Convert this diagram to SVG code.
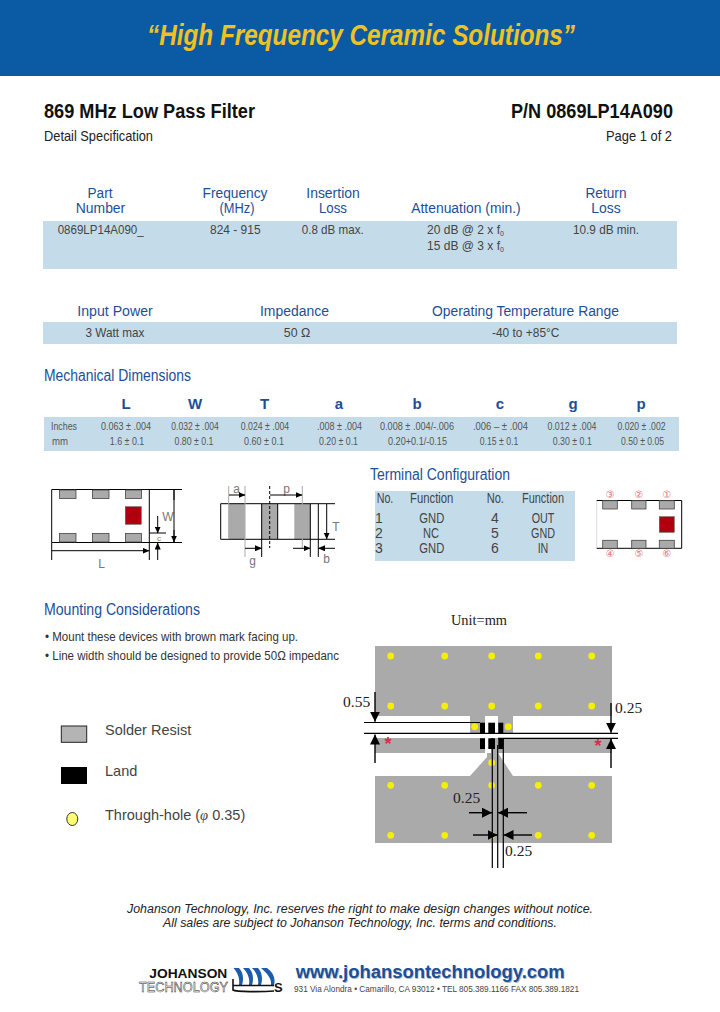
<svg xmlns="http://www.w3.org/2000/svg" width="720" height="1012" viewBox="0 0 720 1012">
<style>
text{font-family:"Liberation Sans",Arial,sans-serif}
.h{fill:#1c4f98;font-size:15.5px;text-anchor:middle}
.s{fill:#1c4f98;font-size:16px}
.v{fill:#444;font-size:13px;text-anchor:middle}
.d{fill:#555;font-size:10.5px;text-anchor:middle}
.dh{fill:#1c4f98;font-size:15px;font-weight:bold;text-anchor:middle}
.t{fill:#444;font-size:14px;text-anchor:middle}
.b{fill:#333;font-size:13.5px}
.lg{fill:#444;font-size:14.5px}
.dim{font-family:"Liberation Serif",serif;font-size:15.5px;fill:#222}
.lab{fill:#777;font-size:12px;text-anchor:middle}
.cn{fill:#e07070;font-size:10px;text-anchor:middle;font-family:"DejaVu Sans",sans-serif}
.pad{fill:#aaa;stroke:#444;stroke-width:.8}
.red{fill:#b00010;stroke:#555;stroke-width:.5}
.ln{stroke:#000;stroke-width:1;fill:none}
.lg2{stroke:#aaa;stroke-width:1;fill:none}
.ar{stroke:#000;stroke-width:1;fill:none;marker-end:url(#a)}
.ar2{stroke:#000;stroke-width:1.4;fill:none;marker-end:url(#b)}
.hole{fill:#f4f000}
.land{fill:#000}
</style>
<defs>
<marker id="a" markerWidth="7" markerHeight="6" refX="6.5" refY="3" orient="auto" markerUnits="userSpaceOnUse"><path d="M0 0L7 3L0 6Z" fill="#000"/></marker>
<marker id="b" markerWidth="10" markerHeight="10" refX="10" refY="5" orient="auto" markerUnits="userSpaceOnUse"><path d="M0 0L10 5L0 10Z" fill="#000"/></marker>
</defs>
<rect width="720" height="1012" fill="#fff"/>
<g id="banner">
<rect width="720" height="76" fill="#0b5aa4"/>
<text x="147" y="45" font-size="29" font-weight="bold" font-style="italic" fill="#f1c21f" textLength="428" lengthAdjust="spacingAndGlyphs">“High Frequency Ceramic Solutions”</text>
</g>
<g id="title">
<text x="44" y="118" font-size="20" font-weight="bold" fill="#111" textLength="211" lengthAdjust="spacingAndGlyphs">869 MHz Low Pass Filter</text>
<text x="511" y="118" font-size="20" font-weight="bold" fill="#111" textLength="162" lengthAdjust="spacingAndGlyphs">P/N 0869LP14A090</text>
<text x="44" y="141" font-size="15" fill="#222" textLength="109" lengthAdjust="spacingAndGlyphs">Detail Specification</text>
<text x="606" y="141" font-size="15" fill="#222" textLength="66" lengthAdjust="spacingAndGlyphs">Page 1 of 2</text>
</g>
<g id="spec-table">
<rect x="43" y="221" width="634" height="48" fill="#c4dcea"/>
<text class="h" x="100" y="198" textLength="25" lengthAdjust="spacingAndGlyphs">Part</text><text class="h" x="100.5" y="213" textLength="49.5" lengthAdjust="spacingAndGlyphs">Number</text>
<text class="h" x="235" y="198" textLength="65" lengthAdjust="spacingAndGlyphs">Frequency</text><text class="h" x="237" y="213" textLength="35" lengthAdjust="spacingAndGlyphs">(MHz)</text>
<text class="h" x="333" y="198" textLength="53.5" lengthAdjust="spacingAndGlyphs">Insertion</text><text class="h" x="333" y="213" textLength="28" lengthAdjust="spacingAndGlyphs">Loss</text>
<text class="h" x="466" y="213" textLength="109.5" lengthAdjust="spacingAndGlyphs">Attenuation (min.)</text>
<text class="h" x="606" y="198" textLength="41" lengthAdjust="spacingAndGlyphs">Return</text><text class="h" x="606" y="213" textLength="29.5" lengthAdjust="spacingAndGlyphs">Loss</text>
<text class="v" x="100.7" y="234" textLength="86" lengthAdjust="spacingAndGlyphs">0869LP14A090_</text>
<text class="v" x="235.3" y="234" textLength="50.5" lengthAdjust="spacingAndGlyphs">824 - 915</text>
<text class="v" x="332.7" y="234" textLength="62" lengthAdjust="spacingAndGlyphs">0.8 dB max.</text>
<text class="v" x="465.5" y="234" style="font-size:12px">20 dB @ 2 x f<tspan font-size="7" dy="2">0</tspan></text>
<text class="v" x="465.5" y="250" style="font-size:12px">15 dB @ 3 x f<tspan font-size="7" dy="2">0</tspan></text>
<text class="v" x="606" y="234" textLength="66" lengthAdjust="spacingAndGlyphs">10.9 dB min.</text>
</g>
<g id="power-table">
<rect x="43" y="322" width="634" height="22" fill="#c4dcea"/>
<text class="h" x="115" y="316" textLength="75.5" lengthAdjust="spacingAndGlyphs">Input Power</text>
<text class="h" x="294.5" y="316" textLength="69" lengthAdjust="spacingAndGlyphs">Impedance</text>
<text class="h" x="525.5" y="316" textLength="187" lengthAdjust="spacingAndGlyphs">Operating Temperature Range</text>
<text class="v" x="115" y="337" textLength="59" lengthAdjust="spacingAndGlyphs">3 Watt max</text>
<text class="v" x="297" y="337" textLength="26.5" lengthAdjust="spacingAndGlyphs">50 Ω</text>
<text class="v" x="525.7" y="337" textLength="67.5" lengthAdjust="spacingAndGlyphs">-40 to +85°C</text>
</g>
<g id="dimensions-table">
<text class="s" x="44" y="381" textLength="147" lengthAdjust="spacingAndGlyphs">Mechanical Dimensions</text>
<rect x="44" y="417" width="635" height="34" fill="#c4dcea"/>
<text class="dh" x="126" y="409">L</text><text class="dh" x="195" y="409">W</text><text class="dh" x="264.5" y="409">T</text><text class="dh" x="339" y="409">a</text><text class="dh" x="417" y="409">b</text><text class="dh" x="500" y="409">c</text><text class="dh" x="573" y="409">g</text><text class="dh" x="641" y="409">p</text>
<text class="d" x="64" y="430" textLength="26" lengthAdjust="spacingAndGlyphs">Inches</text><text class="d" x="60" y="445" textLength="16" lengthAdjust="spacingAndGlyphs">mm</text>
<text class="d" x="126" y="430" textLength="50" lengthAdjust="spacingAndGlyphs">0.063 ± .004</text><text class="d" x="127" y="445" textLength="34.5" lengthAdjust="spacingAndGlyphs">1.6 ± 0.1</text>
<text class="d" x="195" y="430" textLength="47.5" lengthAdjust="spacingAndGlyphs">0.032 ± .004</text><text class="d" x="194" y="445" textLength="39" lengthAdjust="spacingAndGlyphs">0.80 ± 0.1</text>
<text class="d" x="265" y="430" textLength="48.4" lengthAdjust="spacingAndGlyphs">0.024 ± .004</text><text class="d" x="264" y="445" textLength="40" lengthAdjust="spacingAndGlyphs">0.60 ± 0.1</text>
<text class="d" x="339.5" y="430" textLength="45" lengthAdjust="spacingAndGlyphs">.008 ± .004</text><text class="d" x="338.5" y="445" textLength="39" lengthAdjust="spacingAndGlyphs">0.20 ± 0.1</text>
<text class="d" x="417" y="430" textLength="74" lengthAdjust="spacingAndGlyphs">0.008 ± .004/-.006</text><text class="d" x="417.5" y="445" textLength="59" lengthAdjust="spacingAndGlyphs">0.20+0.1/-0.15</text>
<text class="d" x="500.5" y="430" textLength="55" lengthAdjust="spacingAndGlyphs">.006 – ± .004</text><text class="d" x="499" y="445" textLength="38.5" lengthAdjust="spacingAndGlyphs">0.15 ± 0.1</text>
<text class="d" x="572" y="430" textLength="49" lengthAdjust="spacingAndGlyphs">0.012 ± .004</text><text class="d" x="572.3" y="445" textLength="39" lengthAdjust="spacingAndGlyphs">0.30 ± 0.1</text>
<text class="d" x="641.5" y="430" textLength="48" lengthAdjust="spacingAndGlyphs">0.020 ± .002</text><text class="d" x="642.5" y="445" textLength="43" lengthAdjust="spacingAndGlyphs">0.50 ± 0.05</text>
</g>
<g id="top-view">
<path class="ln" d="M182 489.5H51.7V542.5H182M149.3 489.5V560M51.7 542.5V560M149.3 533H166"/>
<rect class="pad" x="59.5" y="490" width="16.5" height="8.5"/><rect class="pad" x="92.5" y="490" width="16.5" height="8.5"/><rect class="pad" x="125.5" y="490" width="16" height="8.5"/>
<rect class="pad" x="59.5" y="533.5" width="16.5" height="8.5"/><rect class="pad" x="92.5" y="533.5" width="16.5" height="8.5"/><rect class="pad" x="125.5" y="533.5" width="16" height="8.5"/>
<rect class="red" x="125.3" y="506.7" width="16" height="17.6"/>
<text class="lab" x="168" y="521">W</text><text class="lab" x="101.7" y="568">L</text><text class="lab" x="159" y="541" style="font-size:8px">c</text>
</g>
<g id="side-view">
<rect x="228.7" y="504" width="16.3" height="35" fill="#aaa"/><rect x="261.7" y="504" width="16" height="35" fill="#aaa"/><rect x="294.3" y="504" width="16" height="35" fill="#aaa"/>
<path class="ln" d="M335 503.7H220.7V539.3H335M261.7 504V557M277.7 504V539M310.3 504V557M318.3 504V557"/>
<path class="lg2" d="M228.7 486V539M245 486V557M302.3 486V548"/>
<path class="ln" stroke-dasharray="3 2" d="M269.7 486V548"/>
<text class="lab" x="236.7" y="493">a</text><text class="lab" x="286.7" y="493">p</text><text class="lab" x="252.7" y="565">g</text><text class="lab" x="326.7" y="563">b</text><text class="lab" x="336" y="531">T</text>
</g>
<g id="terminal-table">
<text class="s" x="370" y="480" textLength="140" lengthAdjust="spacingAndGlyphs">Terminal Configuration</text>
<rect x="375" y="491" width="200" height="70" fill="#c4dcea"/>
<text class="t" x="385" y="502.7" textLength="16.7" lengthAdjust="spacingAndGlyphs">No.</text><text class="t" x="431.7" y="502.7" textLength="43.3" lengthAdjust="spacingAndGlyphs">Function</text><text class="t" x="495.3" y="502.7" textLength="17.3" lengthAdjust="spacingAndGlyphs">No.</text><text class="t" x="543" y="502.7" textLength="42" lengthAdjust="spacingAndGlyphs">Function</text>
<text class="t" x="379" y="522.7">1</text><text class="t" x="431.8" y="522.7" textLength="25" lengthAdjust="spacingAndGlyphs">GND</text><text class="t" x="495" y="522.7">4</text><text class="t" x="543" y="522.7" textLength="22.7" lengthAdjust="spacingAndGlyphs">OUT</text>
<text class="t" x="379" y="538">2</text><text class="t" x="431" y="538" textLength="16" lengthAdjust="spacingAndGlyphs">NC</text><text class="t" x="495" y="538">5</text><text class="t" x="543" y="538" textLength="24" lengthAdjust="spacingAndGlyphs">GND</text>
<text class="t" x="379" y="553">3</text><text class="t" x="431.8" y="553" textLength="25" lengthAdjust="spacingAndGlyphs">GND</text><text class="t" x="495" y="553">6</text><text class="t" x="543" y="553" textLength="10.7" lengthAdjust="spacingAndGlyphs">IN</text>
</g>
<g id="terminal-chip">
<path class="lg2" d="M596.7 500.5V548" style="stroke:#ddd"/>
<path class="ln" d="M596.7 500.5H681.7V548.3H596.7"/>
<rect class="pad" x="602.7" y="500.7" width="14.6" height="8.3"/><rect class="pad" x="631.7" y="500.7" width="14.3" height="8.3"/><rect class="pad" x="659.3" y="500.7" width="15" height="8.3"/>
<rect class="pad" x="602.7" y="540.3" width="14.6" height="8"/><rect class="pad" x="631.7" y="540.3" width="14.3" height="8"/><rect class="pad" x="659.3" y="540.3" width="15" height="8"/>
<rect class="red" x="659.3" y="516.7" width="15" height="15.6"/>
<text class="cn" x="610.3" y="498">③</text><text class="cn" x="639" y="498">②</text><text class="cn" x="667" y="498">①</text>
<text class="cn" x="610.3" y="557">④</text><text class="cn" x="639" y="557">⑤</text><text class="cn" x="667" y="557">⑥</text>
</g>
<g id="mounting-notes">
<text class="s" x="44" y="615" textLength="156" lengthAdjust="spacingAndGlyphs">Mounting Considerations</text>
<text class="b" x="45" y="641" textLength="253" lengthAdjust="spacingAndGlyphs">• Mount these devices with brown mark facing up.</text>
<text class="b" x="45" y="660" textLength="294" lengthAdjust="spacingAndGlyphs">• Line width should be designed to provide 50Ω impedanc</text>
</g>
<g id="legend">
<rect x="61.3" y="726" width="25.4" height="16.3" fill="#b4b4b4" stroke="#222"/>
<rect x="61" y="767" width="26" height="17" fill="#000"/>
<ellipse cx="72.3" cy="819" rx="5.5" ry="6.5" fill="#ffff70" stroke="#333"/>
<text class="lg" x="105" y="735">Solder Resist</text>
<text class="lg" x="105" y="776">Land</text>
<text class="lg" x="105" y="820">Through-hole (<tspan font-style="italic" font-family="Liberation Serif,serif">φ</tspan> 0.35)</text>
</g>
<g id="pcb-layout">
<text class="dim" x="479" y="625" text-anchor="middle" textLength="56" lengthAdjust="spacingAndGlyphs">Unit=mm</text>
<path fill="#aaa" d="M375 646H612V716H513V733H470V716H375Z"/>
<path fill="#aaa" d="M375 738H612V753H375ZM375 776H470L487 757V753H498L513 776H612V843H375Z"/>
<rect x="485" y="716" width="13" height="22" fill="#fff"/>
<rect x="485" y="738" width="6" height="15" fill="#fff"/>
<g class="hole">
<circle cx="390.7" cy="656" r="3.4"/><circle cx="444.7" cy="656" r="3.4"/><circle cx="491.7" cy="656" r="3.4"/><circle cx="538.3" cy="656" r="3.4"/><circle cx="591.7" cy="656" r="3.4"/>
<circle cx="390.7" cy="706" r="3.4"/><circle cx="444.7" cy="706" r="3.4"/><circle cx="491.7" cy="706" r="3.4"/><circle cx="538.3" cy="706" r="3.4"/><circle cx="591.7" cy="706" r="3.4"/>
<circle cx="390.7" cy="785.3" r="3.4"/><circle cx="444.7" cy="785.3" r="3.4"/><circle cx="491.7" cy="785.3" r="3.4"/><circle cx="538.3" cy="785.3" r="3.4"/><circle cx="591.7" cy="785.3" r="3.4"/>
<circle cx="390.7" cy="835.3" r="3.4"/><circle cx="444.7" cy="835.3" r="3.4"/><circle cx="491.7" cy="835.3" r="3.4"/><circle cx="538.3" cy="835.3" r="3.4"/><circle cx="591.7" cy="835.3" r="3.4"/>
<circle cx="474.7" cy="726.7" r="3.4"/><circle cx="508.3" cy="726.7" r="3.4"/><circle cx="491.7" cy="762.7" r="3.4"/>
</g>
<g class="land">
<rect x="480" y="722.7" width="5" height="10.6"/><rect x="488.3" y="722.7" width="6.7" height="10.6"/><rect x="498.3" y="722.7" width="5" height="10.6"/>
<rect x="480" y="738.3" width="5" height="10.7"/><rect x="488.3" y="738.3" width="6.7" height="10.7"/><rect x="498.3" y="738.3" width="5" height="10.7"/>
</g>
<text x="388" y="750" text-anchor="middle" fill="#d8304c" font-size="18" font-weight="bold">*</text>
<text x="598" y="752" text-anchor="middle" fill="#d8304c" font-size="18" font-weight="bold">*</text>
<text class="dim" x="343" y="707">0.55</text>
<text class="dim" x="615" y="713">0.25</text>
<text class="dim" x="453" y="803">0.25</text>
<text class="dim" x="505" y="856">0.25</text>
</g>
<g id="connectors">
<path class="ar" d="M174 500V490M174 530V542"/>
<path class="ar" d="M100 550.7H52M100 550.7H149"/>
<path class="ar" d="M157.7 516V533"/>
<path class="ar" d="M157.7 560V543"/>
<path class="ln" d="M174 490V542"/>
<path class="ar" d="M237 495H229M237 495H245"/>
<path class="ar" d="M286 495H270M286 495H302"/>
<path class="ar" d="M253 548.3H245M253 548.3H261.5"/>
<path class="ar" d="M293 548.3H310"/>
<path class="ar" d="M335 548.3H318.5"/>
<path class="ar" d="M326.7 520V504M326.7 520V539"/>
<path class="ln" style="stroke-width:1.2" d="M364 722.5H480M364 733.3H618M498 738.3H618M492.3 738V868M497.7 745V868M503.3 738.3V868"/>
<path class="ar2" d="M375 692V721.7"/>
<path class="ar2" d="M375 763V734.5"/>
<path class="ar2" d="M611 703V732.7"/>
<path class="ar2" d="M611 768V739"/>
<path class="ar2" d="M469 812.7H492"/>
<path class="ar2" d="M527 812.7H498"/>
<path class="ar2" d="M473 835H497.7"/>
<path class="ar2" d="M532 835H503.5"/>
</g>
<g id="notice">
<text x="127" y="913" font-size="12.5" font-style="italic" fill="#222" textLength="466" lengthAdjust="spacingAndGlyphs">Johanson Technology, Inc. reserves the right to make design changes without notice.</text>
<text x="163" y="927" font-size="12.5" font-style="italic" fill="#222" textLength="394" lengthAdjust="spacingAndGlyphs">All sales are subject to Johanson Technology, Inc. terms and conditions.</text>
</g>
<g id="footer-logo">
<text x="149.3" y="977.5" font-size="13" font-weight="bold" fill="#111" textLength="78" lengthAdjust="spacingAndGlyphs">JOHANSON</text>
<text x="139" y="992" font-size="14.5" fill="#fff" stroke="#222" stroke-width=".5" textLength="89" lengthAdjust="spacingAndGlyphs">TECHNOLOGY</text>
<g fill="#1c5cab">
<path d="M233.5 968H239C243 972 244 979 242 985H239C240 979 238 973 233.5 968Z"/>
<path d="M243 968H249C253 972 254 979 252 985H249C250 979 248 973 243 968Z"/>
<path d="M252 968H258C262 972 263 979 261 985H258C259 979 257 973 252 968Z"/>
<path d="M261 968H267C273 972 276 979 274 985H271C272 979 267 973 261 968Z"/>
</g>
<path fill="none" stroke="#111" stroke-width="1.6" d="M233 979V990C236 992 262 992 274 991M233 985.5H274"/>
<text x="274" y="992" font-size="13" font-weight="bold" fill="#111">S</text>
<text x="296.5" y="979" font-size="17.5" font-weight="bold" fill="#bbb" textLength="269" lengthAdjust="spacingAndGlyphs">www.johansontechnology.com</text>
<text x="295.7" y="978" font-size="17.5" font-weight="bold" fill="#1c4f98" textLength="269" lengthAdjust="spacingAndGlyphs">www.johansontechnology.com</text>
<text x="294" y="992" font-size="9" fill="#444" textLength="285" lengthAdjust="spacingAndGlyphs">931 Via Alondra • Camarillo, CA 93012 • TEL 805.389.1166  FAX 805.389.1821</text>
</g>
</svg>
